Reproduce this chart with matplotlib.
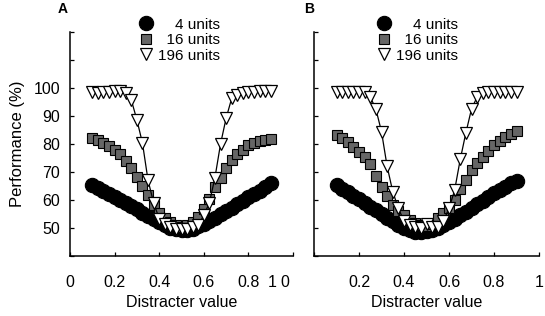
import matplotlib
matplotlib.use('Agg')
import matplotlib.pyplot as plt
import matplotlib.transforms as mtransforms
from matplotlib.ticker import FixedLocator, FixedFormatter

plt.rcParams['font.family'] = ['Liberation Sans', 'DejaVu Sans']

# ---------------- data ----------------
distracter = [0.1, 0.125, 0.15, 0.175, 0.2, 0.225, 0.25, 0.275, 0.3, 0.325,
              0.35, 0.375, 0.4, 0.425, 0.45, 0.475, 0.5, 0.525, 0.55, 0.575,
              0.6, 0.625, 0.65, 0.675, 0.7, 0.725, 0.75, 0.775, 0.8, 0.825,
              0.85, 0.875, 0.9]

a_4 = [65.2, 64.2, 63.2, 62.2, 61.2, 60.1, 59.0, 57.9, 56.7, 55.5,
       54.3, 53.1, 52.0, 51.0, 50.1, 49.5, 49.2, 49.3, 49.8, 50.6,
       51.5, 52.6, 53.7, 54.9, 56.1, 57.3, 58.5, 59.7, 60.9, 62.1,
       63.3, 64.6, 65.9]
a_16 = [82.0, 81.4, 80.5, 79.3, 78.0, 76.3, 74.0, 71.5, 68.2, 65.0,
        61.8, 58.2, 55.5, 53.5, 52.0, 51.0, 50.5, 51.0, 52.2, 54.0,
        56.8, 60.5, 64.5, 68.0, 71.5, 74.3, 76.3, 78.0, 79.5, 80.4,
        81.2, 81.6, 81.9]
a_196 = [98.5, 98.3, 98.4, 98.6, 99.0, 98.8, 98.2, 95.7, 88.6, 80.3,
         67.0, 59.0, 53.3, 51.5, 50.3, 49.7, 49.5, 49.8, 50.3, 51.0,
         54.5, 59.0, 68.0, 80.0, 89.2, 96.3, 97.5, 98.1, 98.6, 98.7,
         98.8, 98.9, 99.0]

b_4 = [65.4, 64.1, 62.8, 61.5, 60.2, 58.9, 57.6, 56.3, 55.0, 53.7,
       52.4, 51.2, 50.1, 49.2, 48.7, 48.6, 48.8, 49.3, 50.1, 51.0,
       52.0, 53.2, 54.5, 55.8, 57.2, 58.5, 59.8, 61.1, 62.4, 63.6,
       64.8, 65.9, 66.8]
b_16 = [83.3, 82.2, 80.8, 79.1, 77.3, 75.4, 73.0, 68.5, 64.8, 61.6,
        58.2, 56.0, 54.7, 53.0, 51.8, 51.0, 50.7, 51.5, 53.5, 55.5,
        57.2, 60.0, 63.8, 67.2, 70.7, 73.2, 75.3, 77.6, 79.5, 81.1,
        82.4, 83.5, 84.6]
b_196 = [98.6, 98.5, 98.7, 98.5, 98.7, 98.6, 96.8, 92.5, 84.4, 72.0,
         63.0, 57.0, 52.5, 51.0, 50.3, 50.0, 51.3, 50.2, 50.5, 52.5,
         57.0, 63.5, 74.5, 84.0, 92.5, 96.8, 98.2, 98.6, 98.7, 98.7,
         98.6, 98.7, 98.6]

series_labels = ['\u2007\u20074 units', '\u200716 units', '196 units']
x_ticks = [0, 0.2, 0.4, 0.6, 0.8, 1]
x_ticklabels = ['0', '0.2', '0.4', '0.6', '0.8', '1']
y_ticks = [40, 50, 60, 70, 80, 90, 100, 110, 120]
y_ticklabels = ['', '50', '60', '70', '80', '90', '100', '', '']
panel_letters = ['A', 'B']

# ---------------- figure ----------------
W, H = 545, 316
fig = plt.figure(figsize=(W / 100, H / 100), dpi=100)

def px_axes(x0, x1, y_top, y_bot):
    return fig.add_axes([x0 / W, 1 - y_bot / H, (x1 - x0) / W, (y_bot - y_top) / H])

axA = px_axes(70, 293, 32, 256)
axB = px_axes(314, 539, 32, 256)

FS = 11.5

def draw(ax, y4, y16, y196, leg_anchor):
    ax.plot(distracter, y4, 'o', ls='none', ms=10.3, mfc='black', mec='black',
            mew=0.8, label=series_labels[0], zorder=3)
    ax.plot(distracter, y16, 's', ls='none', ms=7.8, mfc='#666666', mec='black',
            mew=0.8, label=series_labels[1], zorder=4)
    ax.plot(distracter, y196, 'v', ls='-', color='black', lw=0.9, ms=8.8,
            mfc='white', mec='black', mew=0.9, label=series_labels[2], zorder=5)
    ax.set_xlim(0, 1)
    ax.set_ylim(40, 120)
    for s in ['top', 'right']:
        ax.spines[s].set_visible(False)
    for s in ['left', 'bottom']:
        ax.spines[s].set_linewidth(1.1)
    ax.xaxis.set_major_locator(FixedLocator(x_ticks))
    ax.xaxis.set_major_formatter(FixedFormatter(x_ticklabels))
    ax.yaxis.set_major_locator(FixedLocator(y_ticks))
    ax.yaxis.set_major_formatter(FixedFormatter(y_ticklabels))
    ax.tick_params(axis='x', direction='in', length=3, width=0.9, pad=14, labelsize=FS)
    ax.tick_params(axis='y', direction='in', length=3, width=0.9, pad=7, labelsize=FS)
    ax.set_xlabel('Distracter value', fontsize=FS, labelpad=3)
    leg = ax.legend(loc='center left', bbox_to_anchor=leg_anchor, frameon=False,
                    borderpad=0, borderaxespad=0, handlelength=1.0,
                    handletextpad=0.3, labelspacing=0.1, fontsize=FS - 0.5,
                    numpoints=1)
    for h in leg.legend_handles:
        h.set_linestyle('none')
    return leg

draw(axA, a_4, a_16, a_196, (0.305, 0.964))
draw(axB, b_4, b_16, b_196, (0.278, 0.964))

axA.set_ylabel('Performance (%)', fontsize=FS + 0.5, labelpad=6)
axB.tick_params(axis='y', labelleft=False)

# shift the crowded "1" (A) and "0" (B) labels as in the original
fig.canvas.draw()
lblA = axA.get_xticklabels()[-1]
lblA.set_transform(lblA.get_transform() + mtransforms.ScaledTranslation(-21 / 100, 0, fig.dpi_scale_trans))
lblB = axB.get_xticklabels()[0]
lblB.set_transform(lblB.get_transform() + mtransforms.ScaledTranslation(-29 / 100, 0, fig.dpi_scale_trans))

fig.text(63 / W, 1 - 9 / H, panel_letters[0], fontsize=FS - 1.5, fontweight='bold', ha='center', va='center')
fig.text(309 / W, 1 - 9 / H, panel_letters[1], fontsize=FS - 1.5, fontweight='bold', ha='center', va='center')

fig.savefig('out.png', dpi=100)
